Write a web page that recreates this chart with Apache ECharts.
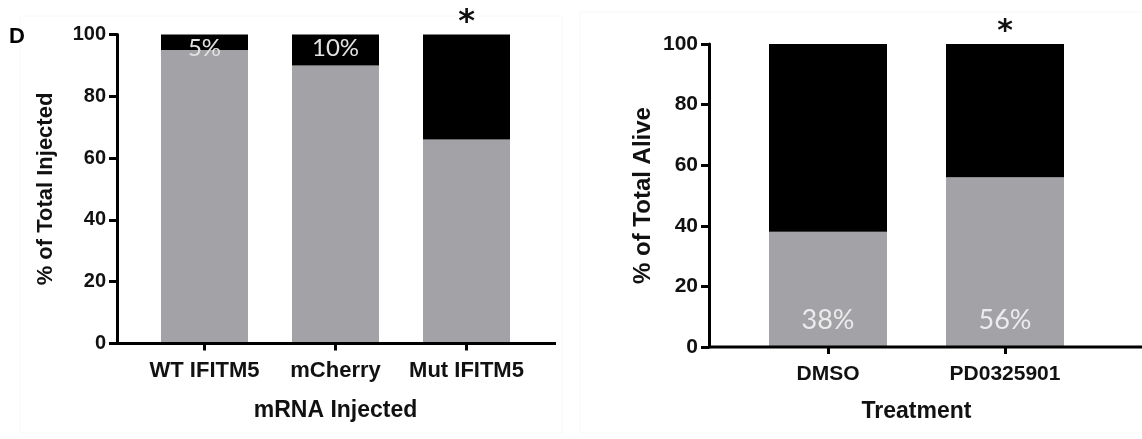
<!DOCTYPE html>
<html>
<head>
<meta charset="utf-8">
<script src="https://cdn.jsdelivr.net/npm/echarts@6/dist/echarts.min.js"></script>
<style>
  html, body { margin: 0; padding: 0; background: #fff; }
  #main { width: 1142px; height: 439px; }
</style>
</head>
<body>
<div id="main"></div>
<script>
// panel D, left: mRNA injected
const injCats = ['WT IFITM5', 'mCherry', 'Mut IFITM5'];
const injGray = [95, 90, 66];
const injBlack = [5, 10, 34];
const injPct = ['5%', '10%', ''];
const injSig = ['', '', '*'];

// right: treatment
const treatCats = ['DMSO', 'PD0325901'];
const treatGray = [38, 56];
const treatBlack = [62, 44];
const treatPct = ['38%', '56%'];
const treatSig = ['', '*'];

const yTicks = { min: 0, max: 100, interval: 20 };

const GRAY = '#a3a2a7';
const FONT = "'Liberation Sans', Arial, sans-serif";

let myChart = echarts.init(document.getElementById('main'));

function yAxisOf(gridIndex, name, offset, fontSize, nameSize, nameGap) {
  return {
    type: 'value',
    gridIndex: gridIndex,
    min: yTicks.min,
    max: yTicks.max,
    interval: yTicks.interval,
    offset: offset,
    name: name,
    nameLocation: 'middle',
    nameGap: nameGap,
    nameTextStyle: { fontFamily: FONT, fontWeight: 'bold', fontSize: nameSize, color: '#111' },
    splitLine: { show: false },
    axisLine: { show: true, lineStyle: { color: '#000', width: 3 } },
    axisTick: { show: true, length: 8, lineStyle: { color: '#000', width: 3 } },
    axisLabel: { fontFamily: FONT, fontWeight: 'bold', fontSize: fontSize, color: '#111', margin: 11 }
  };
}

function xAxisOf(gridIndex, cats, name, nameGap, margin, fontSize) {
  return {
    type: 'category',
    gridIndex: gridIndex,
    data: cats,
    name: name,
    nameLocation: 'middle',
    nameGap: nameGap,
    nameTextStyle: { fontFamily: FONT, fontWeight: 'bold', fontSize: 23, color: '#111' },
    axisLine: { show: false },
    axisTick: { show: true, alignWithLabel: true, length: 7, lineStyle: { color: '#000', width: 3 } },
    axisLabel: { interval: 0, fontFamily: FONT, fontWeight: 'bold', fontSize: fontSize, color: '#111', margin: margin }
  };
}

myChart.setOption({
  backgroundColor: '#fff',
  animation: false,
  grid: [
    { left: 139, top: 34.5, width: 393, height: 309 },
    { left: 739.5, top: 44, width: 354, height: 303 }
  ],
  xAxis: [
    xAxisOf(0, injCats, 'mRNA Injected', 56, 16, 22),
    xAxisOf(1, treatCats, 'Treatment', 53, 17, 21)
  ],
  yAxis: [
    yAxisOf(0, '% of Total Injected', 22, 20, 22, 60),
    yAxisOf(1, '% of Total Alive', 30.5, 21, 24, 54)
  ],
  series: [
    {
      type: 'bar', xAxisIndex: 0, yAxisIndex: 0, stack: 'inj',
      barWidth: 87, data: injGray,
      itemStyle: { color: GRAY }
    },
    {
      type: 'bar', xAxisIndex: 0, yAxisIndex: 0, stack: 'inj',
      barWidth: 87, data: injBlack,
      itemStyle: { color: '#000' },
      label: {
        show: true, position: 'insideTop', distance: 2,
        formatter: (p) => injPct[p.dataIndex],
        fontFamily: 'Lato', fontSize: 24, color: '#e2e2e2'
      }
    },
    {
      // significance marks sit on top of the stacks
      type: 'bar', xAxisIndex: 0, yAxisIndex: 0, stack: 'inj',
      barWidth: 87, data: injCats.map(() => 0),
      itemStyle: { color: 'transparent' },
      label: {
        show: true, position: 'top', distance: -4,
        formatter: (p) => injSig[p.dataIndex],
        fontFamily: 'DejaVu Sans', fontWeight: 'bold', fontSize: 32, color: '#111'
      }
    },
    {
      type: 'bar', xAxisIndex: 1, yAxisIndex: 1, stack: 'treat',
      barWidth: 118, data: treatGray,
      itemStyle: { color: GRAY },
      label: {
        show: true, position: 'insideBottom', distance: 13,
        formatter: (p) => treatPct[p.dataIndex],
        fontFamily: 'Lato', fontSize: 27, color: '#ececec'
      }
    },
    {
      type: 'bar', xAxisIndex: 1, yAxisIndex: 1, stack: 'treat',
      barWidth: 118, data: treatBlack,
      itemStyle: { color: '#000' }
    },
    {
      type: 'bar', xAxisIndex: 1, yAxisIndex: 1, stack: 'treat',
      barWidth: 118, data: treatCats.map(() => 0),
      itemStyle: { color: 'transparent' },
      label: {
        show: true, position: 'top', distance: -3,
        formatter: (p) => treatSig[p.dataIndex],
        fontFamily: 'DejaVu Sans', fontWeight: 'bold', fontSize: 30, color: '#111'
      }
    }
  ],
  graphic: [
    // faint panel frames from the original figure
    { type: 'rect', shape: { x: 20, y: 16, width: 542, height: 417 }, style: { fill: 'none', stroke: '#f8f8f8', lineWidth: 1 }, silent: true, z: -1 },
    { type: 'rect', shape: { x: 580, y: 12, width: 580, height: 421 }, style: { fill: 'none', stroke: '#f8f8f8', lineWidth: 1 }, silent: true, z: -1 },
    // x baselines run past the outer bars, GraphPad style
    { type: 'line', shape: { x1: 117, y1: 343.5, x2: 556, y2: 343.5 }, style: { stroke: '#000', lineWidth: 3 }, z: 10 },
    { type: 'line', shape: { x1: 709, y1: 347, x2: 1142, y2: 347 }, style: { stroke: '#000', lineWidth: 3 }, z: 10 },
    {
      type: 'text', left: 9, top: 26,
      style: { text: 'D', font: "bold 22px 'Liberation Sans', Arial, sans-serif", fill: '#000' }
    }
  ]
});
</script>
</body>
</html>
